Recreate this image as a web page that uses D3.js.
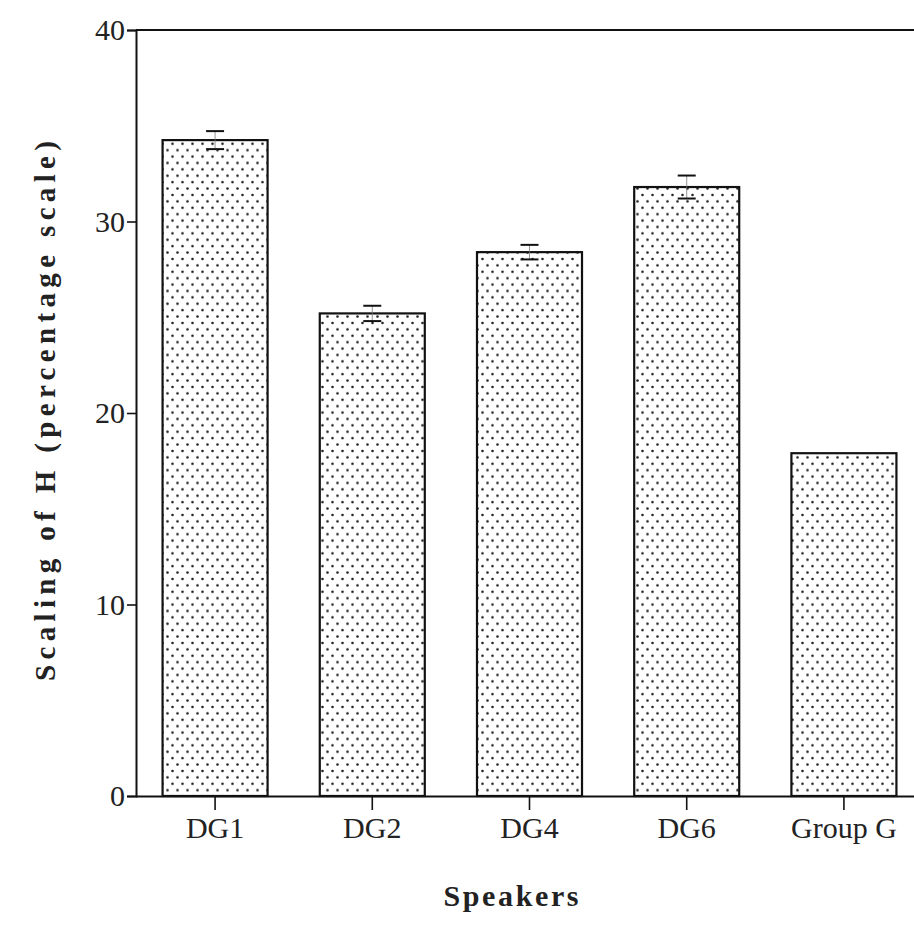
<!DOCTYPE html>
<html>
<head>
<meta charset="utf-8">
<script src="https://cdn.jsdelivr.net/npm/d3@7"></script>
<style>
  html, body { margin: 0; padding: 0; background: #fff; }
  svg { display: block; }
</style>
</head>
<body>
<svg id="chart" width="914" height="926"></svg>
<script>
const categories = ["DG1", "DG2", "DG4", "DG6", "Group G"];
const values = [34.25, 25.2, 28.4, 31.8, 17.9];
const errors = [0.47, 0.4, 0.38, 0.6, 0];
const yTicks = [0, 10, 20, 30, 40];
const yTitle = "Scaling of H (percentage scale)";
const xTitle = "Speakers";

const svg = d3.select("#chart");
const font = "'Liberation Serif', 'Times New Roman', serif";

const x0 = 136, y0 = 796, yTop = 30;
const x = d3.scaleBand().domain(categories).range([x0, 923]).paddingInner(0.332).paddingOuter(0.169);
const y = d3.scaleLinear().domain([0, 40]).range([y0, yTop]);

// pattern
const defs = svg.append("defs");
const pat = defs.append("pattern").attr("id", "dots").attr("patternUnits", "userSpaceOnUse")
  .attr("width", 10).attr("height", 12.8);
pat.append("rect").attr("width", 10).attr("height", 12.8).attr("fill", "#fff");
pat.append("circle").attr("cx", 2.5).attr("cy", 3).attr("r", 1.3).attr("fill", "#222");
pat.append("circle").attr("cx", 7.5).attr("cy", 9.4).attr("r", 1.3).attr("fill", "#222");

// top frame line
svg.append("line").attr("x1", x0).attr("x2", 914).attr("y1", y(40)).attr("y2", y(40))
  .attr("stroke", "#111").attr("stroke-width", 2);

// bars
svg.selectAll("rect.bar").data(categories).enter().append("rect")
  .attr("class", "bar")
  .attr("x", d => x(d)).attr("width", x.bandwidth())
  .attr("y", (d, i) => y(values[i])).attr("height", (d, i) => y0 - y(values[i]))
  .attr("fill", "url(#dots)").attr("stroke", "#111").attr("stroke-width", 2.2);

// error bars
const eb = svg.selectAll("g.err").data(categories.filter((d, i) => errors[i] > 0)).enter().append("g").attr("class", "err");
eb.each(function(d) {
  const i = categories.indexOf(d);
  const cx = x(d) + x.bandwidth() / 2;
  const g = d3.select(this);
  const hi = y(values[i] + errors[i]), lo = y(values[i] - errors[i]);
  g.append("line").attr("x1", cx).attr("x2", cx).attr("y1", hi).attr("y2", lo).attr("stroke", "#777").attr("stroke-width", 0.8);
  [hi, lo].forEach(yy => g.append("line").attr("x1", cx - 9).attr("x2", cx + 9).attr("y1", yy).attr("y2", yy)
    .attr("stroke", "#111").attr("stroke-width", 2));
});

// y axis
const yAxis = svg.append("g").attr("transform", `translate(${x0},0)`)
  .call(d3.axisLeft(y).tickValues(yTicks).tickSize(9).tickPadding(2).tickFormat(d3.format("d")));
yAxis.select(".domain").attr("stroke", "#111").attr("stroke-width", 2);
yAxis.selectAll(".tick line").attr("stroke", "#111").attr("stroke-width", 1.6);
yAxis.selectAll(".tick text").attr("font-family", font).attr("font-size", 30).attr("fill", "#222");

// x axis
const xAxis = svg.append("g").attr("transform", `translate(0,${y0})`)
  .call(d3.axisBottom(x).tickSize(14).tickPadding(7));
xAxis.select(".domain").attr("d", `M${x0},0.5H914`).attr("stroke", "#111").attr("stroke-width", 2);
xAxis.selectAll(".tick line").attr("stroke", "#111").attr("stroke-width", 1.6);
xAxis.selectAll(".tick text").attr("font-family", font).attr("font-size", 30).attr("fill", "#222");

// titles
svg.append("text").attr("transform", "translate(55,411) rotate(-90)")
  .attr("text-anchor", "middle").attr("font-family", font).attr("font-weight", "bold")
  .attr("font-size", 29).attr("fill", "#222")
  .attr("textLength", 540).attr("lengthAdjust", "spacing").text(yTitle);

svg.append("text").attr("x", 511).attr("y", 906)
  .attr("text-anchor", "middle").attr("font-family", font).attr("font-weight", "bold")
  .attr("font-size", 30).attr("fill", "#222")
  .attr("textLength", 135).attr("lengthAdjust", "spacing").text(xTitle);
</script>
</body>
</html>
